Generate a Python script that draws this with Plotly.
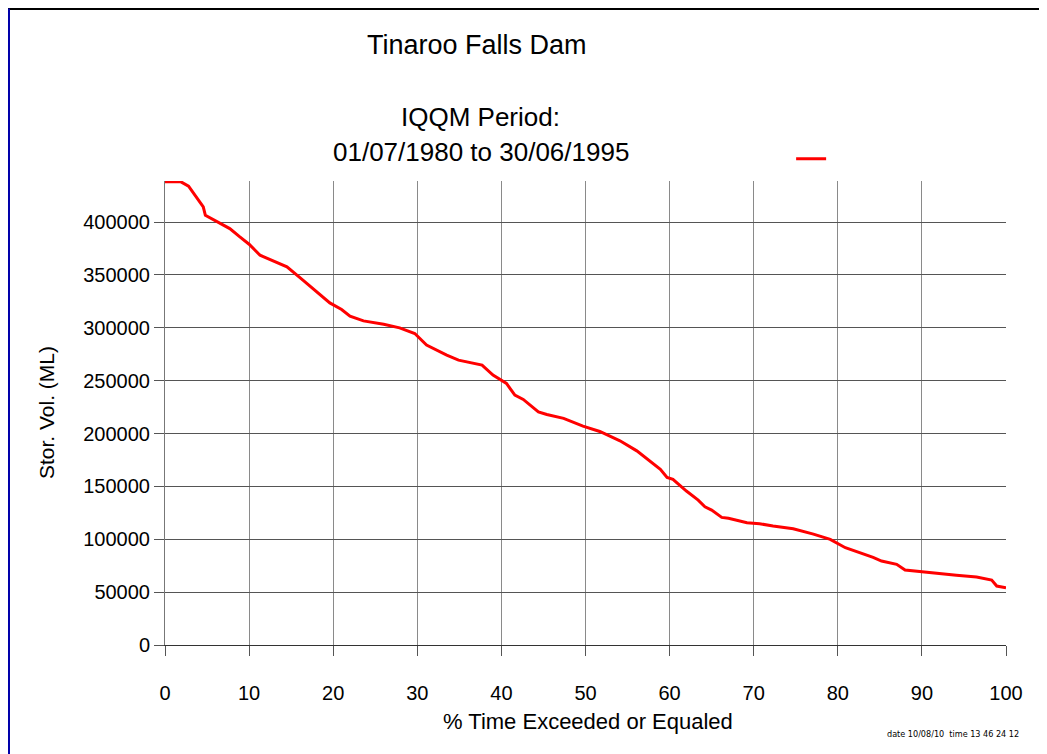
import plotly.graph_objects as go

# % time exceeded or equaled
pct_time = [0, 1.9, 2.8, 4.55, 4.8, 5.9, 7.7, 8.9, 10.0, 11.3, 14.5, 16.4, 18.0, 19.6,
            21.0, 22.0, 23.6, 26.0, 27.9, 29.7, 31.1, 33.5, 34.9, 37.7, 39.0, 40.6,
            41.6, 42.6, 44.4, 45.4, 47.4, 49.7, 51.7, 54.1, 56.1, 58.9, 59.7, 60.4,
            62.0, 63.4, 64.2, 65.0, 66.2, 67.0, 69.2, 70.7, 72.3, 74.7, 77.1, 79.1,
            80.9, 82.6, 84.2, 85.2, 87.0, 88.0, 89.8, 91.4, 94.1, 96.5, 98.3, 98.9, 100]
# storage volume (ML)
stor_vol = [438000, 438000, 434000, 414300, 406400, 401700, 393800, 385900, 379000,
            368600, 357600, 345000, 334000, 323500, 317300, 311000, 306500, 303400,
            299900, 294600, 283600, 274100, 269400, 264700, 255200, 247400, 236300,
            232200, 220500, 218000, 214300, 207000, 201900, 193100, 183600, 166100,
            158500, 156600, 145600, 137000, 130700, 127600, 120700, 119800, 115600,
            114700, 112500, 109900, 104900, 99900, 92000, 87600, 82900, 79400, 76300,
            70900, 69300, 67800, 65900, 64300, 61400, 55800, 54200]

x_ticks = [0, 10, 20, 30, 40, 50, 60, 70, 80, 90, 100]
y_ticks = [0, 50000, 100000, 150000, 200000, 250000, 300000, 350000, 400000]

FONT = "Liberation Sans"
NARROW = "Liberation Sans Narrow, DejaVu Sans Condensed, Liberation Sans"

fig = go.Figure()
fig.add_trace(go.Scatter(x=pct_time, y=stor_vol, mode="lines", name="",
                         line=dict(color="#ff0000", width=3), showlegend=True))


def ann(text, x, y, size, family=FONT, angle=0):
    return dict(text=text, x=x, y=y, xref="paper", yref="paper", showarrow=False,
                xanchor="center", yanchor="middle", textangle=angle,
                font=dict(size=size, family=family, color="black"))


fig.update_layout(
    width=1039, height=746,
    margin=dict(l=157, r=41, t=173, b=109, pad=0),
    paper_bgcolor="white", plot_bgcolor="white",
    font=dict(family=FONT, color="black", size=20),
    showlegend=True,
    legend=dict(x=0.7445, y=1.048, xanchor="left", yanchor="middle",
                bgcolor="rgba(0,0,0,0)", itemwidth=30, font=dict(size=10)),
    xaxis=dict(range=[0, 100], tickvals=x_ticks, ticks="outside", ticklen=10,
               tickcolor="#555", showline=True, linecolor="#333", linewidth=1,
               showgrid=True, gridcolor="#8a8a8a", gridwidth=1, zeroline=False,
               tickfont=dict(size=20), ticklabelstandoff=20),
    yaxis=dict(range=[0, 438800], tickvals=y_ticks, ticks="outside", ticklen=10,
               tickcolor="#555", showline=True, linecolor="#777", linewidth=1,
               showgrid=True, gridcolor="#555", gridwidth=1, zeroline=False,
               tickformat="d", tickfont=dict(size=20)),
    annotations=[
        ann("Tinaroo Falls Dam", 0.371, 1.293, 27),
        ann("IQQM Period:", 0.3757, 1.138, 26),
        ann("01/07/1980 to 30/06/1995", 0.3757, 1.0625, 26),
        ann("% Time Exceeded or Equaled", 0.503, -0.1638, 22),
        ann("Stor. Vol. (ML)", -0.1415, 0.502, 21, angle=-90),
        ann("date 10/08/10  time 13 46 24 12", 0.937, -0.1918, 9, family=NARROW),
    ],
    shapes=[
        dict(type="line", xref="paper", yref="paper", x0=-0.19, x1=1.06, y0=1.3707, y1=1.3707,
             line=dict(color="black", width=2)),
        dict(type="line", xref="paper", yref="paper", x0=-0.1855, x1=-0.1855, y0=1.372, y1=-0.25,
             line=dict(color="#0000aa", width=2)),
    ],
)

fig.write_html("out.html")
